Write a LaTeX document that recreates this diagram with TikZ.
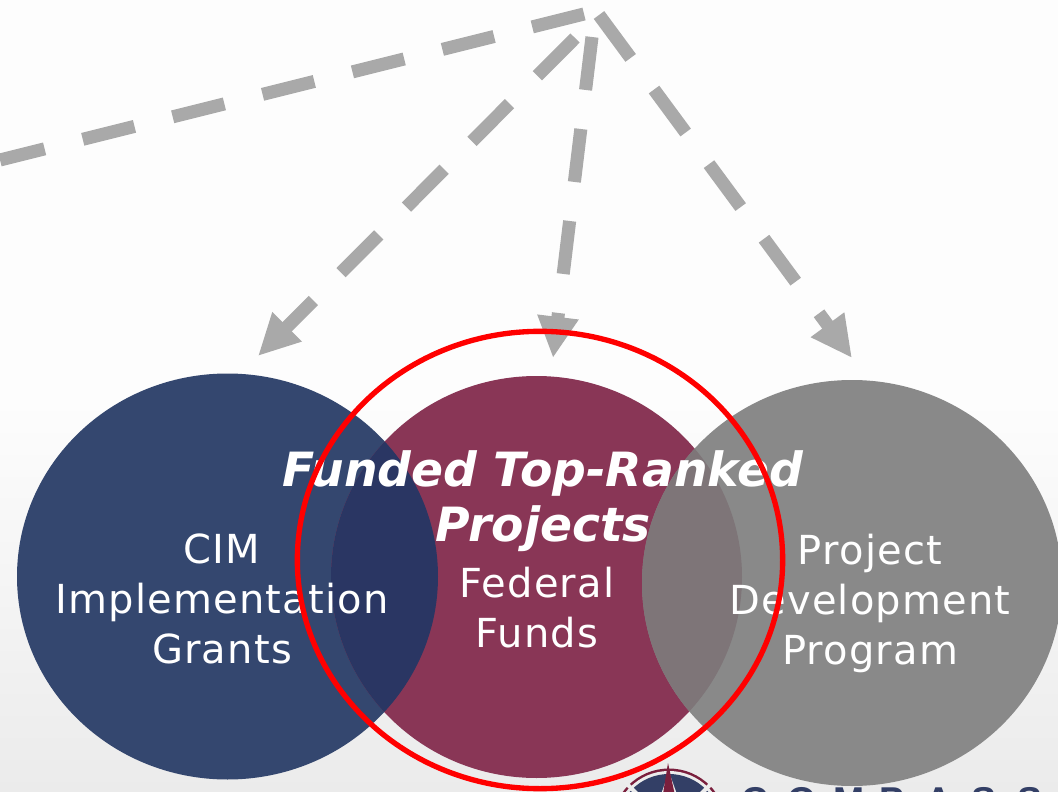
\documentclass[tikz,border=0pt]{standalone}
\usepackage{fontspec}
\setmainfont{DejaVu Sans}
\newfontfamily\logofont{Liberation Sans}
\newfontfamily\lblfont[LetterSpace=3]{DejaVu Sans}
\usetikzlibrary{arrows.meta,shapes.geometric}
\definecolor{cblue}{HTML}{34476F}
\definecolor{cmaroon}{HTML}{893656}
\definecolor{cgray}{HTML}{898989}
\definecolor{cbm}{HTML}{2A3663}
\definecolor{cmg}{HTML}{7E7578}
\definecolor{cdash}{HTML}{A9A9A9}
\definecolor{cnavy}{HTML}{333F66}
\definecolor{cwine}{HTML}{7A1F3D}
\definecolor{bgtop}{HTML}{FDFDFD}
\definecolor{bgbot}{HTML}{EBEBEB}
\newcommand{\lgl}[1]{\makebox[34.5pt][l]{#1}}
\tikzset{
  x=0.75pt,y=-0.75pt,
  venn/.style={ellipse,inner sep=0pt,draw=none},
  vlabel/.style={text=white,align=center,font=\lblfont\fontsize{30}{37.5}\selectfont},
  ttl/.style={text=white,align=center,font=\fontsize{35.4}{41}\selectfont\bfseries\itshape},
  dashline/.style={draw=cdash,line width=9.8pt,dash pattern=on 40pt off 29.5pt},
  dasharrow/.style={dashline,-{Triangle[length=31pt,width=29pt]}},
}
\begin{document}
\begin{tikzpicture}
\useasboundingbox (0,0) rectangle (1058,792);
\begin{scope}
\clip (0,0) rectangle (1058,792);
\fill[bgtop] (0,0) rectangle (1058,401);
\shade[top color=bgtop,bottom color=bgbot] (0,400) rectangle (1058,792);
% circles
\node[venn,fill=cblue,minimum width=315.75pt,minimum height=304.5pt] (cim) at (227.5,576.5) {};
\node[venn,fill=cmaroon,minimum width=308.25pt,minimum height=301.5pt] (fed) at (536.5,577) {};
\node[venn,fill=cgray,minimum width=315pt,minimum height=304.5pt] (pdp) at (852,583) {};
\begin{scope}
\clip (227.5,576.5) ellipse [x radius=210.5,y radius=203];
\fill[cbm] (536.5,577) ellipse [x radius=205.5,y radius=201];
\end{scope}
\begin{scope}
\clip (852,583) ellipse [x radius=210,y radius=203];
\fill[cmg] (536.5,577) ellipse [x radius=205.5,y radius=201];
\end{scope}
% logo
\fill[cwine] (669,826) circle [radius=57.5];
\fill[white!85!gray] (669,826) circle [radius=55];
\fill[cnavy] (669,826) circle [radius=52];
\draw[white!85!gray,line width=3pt] (669,826) -- +(-45,-45);
\draw[white!85!gray,line width=3pt] (669,826) -- +(45,-45);
\fill[white!85!gray] (659,800) -- (669,772) -- (679,800) -- cycle;
\fill[cwine] (662,800) -- (668,763) -- (676,800) -- cycle;
\node[anchor=base west,inner sep=0pt,text=cnavy,font=\logofont\bfseries\fontsize{28}{28}\selectfont] (logo) at (741,813) {\lgl{C}\lgl{O}\lgl{M}\lgl{P}\lgl{A}\lgl{S}\lgl{S}};
% connectors
\coordinate (hubA) at (584,14);
\coordinate (hubB) at (575,38);
\coordinate (hubC) at (592,37);
\coordinate (hubD) at (599,15);
\coordinate (far) at (0,160);
\coordinate (tipA) at (258,356);
\coordinate (tipB) at (553,358);
\coordinate (tipC) at (852,358);
\draw[dashline] (hubA) -- (far);
\draw[dasharrow] (hubB) -- (tipA);
\draw[dasharrow] (hubC) -- (tipB);
\draw[dasharrow] (hubD) -- (tipC);
% labels
\node[vlabel] (cimt) at (222,599) {CIM\\Implementation\\Grants};
\node[vlabel] (fedt) at (537,608) {Federal\\Funds};
\node[vlabel] (pdpt) at (870,603) {Project\\Development\\Program};
\node[ttl] (title) at (543,501) {Funded Top-Ranked\\Projects};
% red ring
\node[ellipse,draw=red,line width=4pt,inner sep=0pt,minimum width=364pt,minimum height=343pt] (ring) at (540,560) {};
\end{scope}
\end{tikzpicture}
\end{document}
